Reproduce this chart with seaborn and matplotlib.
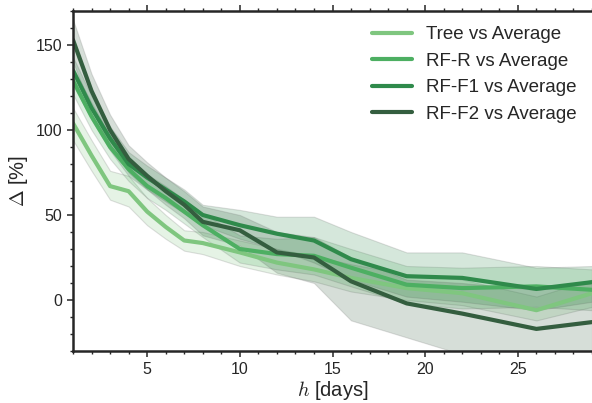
import numpy as np
import matplotlib
matplotlib.use("Agg")
import matplotlib.pyplot as plt
from matplotlib.ticker import MultipleLocator
import seaborn as sns

# --- datos ---
dias = [1, 2, 3, 4, 5, 6, 7, 8, 10, 12, 14, 16, 19, 22, 26, 29]

tree = [104, 85, 67, 64, 52, 43, 35, 33.5, 28, 22, 18, 13, 7, 4, -6, 4]
tree_lo = [94, 76, 59, 55, 44, 36, 29, 27, 20, 15, 11, 5, 0, -3, -12, -4]
tree_hi = [113, 94, 76, 73, 60, 50, 41, 40, 35, 30, 26, 21, 15, 12, 2, 12]

rf_r = [129, 108, 90, 77, 67, 60, 52, 44, 30, 27, 26, 19, 9, 7, 8, 6]
rf_r_lo = [121, 100, 83, 70, 60, 53, 45, 37, 22, 18, 15, 8, -2, -5, -4, -6]
rf_r_hi = [137, 116, 97, 84, 74, 67, 59, 51, 38, 36, 37, 30, 20, 19, 20, 18]

rf_f1 = [135, 113, 95, 80, 72, 65, 58, 50, 44, 39, 35, 24, 14, 13, 6.5, 10.5]
rf_f1_lo = [127, 106, 88, 73, 65, 58, 51, 44, 36, 30, 22, 12, 2, -1, -6, -1]
rf_f1_hi = [143, 120, 102, 87, 79, 72, 65, 56, 53, 49, 49, 40, 28, 28, 19, 20]

rf_f2 = [153, 123, 100, 83, 73, 64, 56, 46, 41, 28, 25, 11, -2, -8, -17, -13]
rf_f2_lo = [140, 112, 91, 75, 65, 56, 48, 38, 32, 16, 10, -12, -22, -32, -42, -38]
rf_f2_hi = [165, 133, 109, 91, 81, 72, 64, 55, 50, 40, 37, 25, 12, 10, 6, 10]

etiquetas = ["Tree vs Average", "RF-R vs Average", "RF-F1 vs Average", "RF-F2 vs Average"]
colores = ["#7fc67f", "#4daf62", "#2f8a4b", "#345e3f"]

series = [(tree, tree_lo, tree_hi), (rf_r, rf_r_lo, rf_r_hi),
          (rf_f1, rf_f1_lo, rf_f1_hi), (rf_f2, rf_f2_lo, rf_f2_hi)]

# --- estilo ---
sns.set_style("ticks")
plt.rcParams['font.family'] = ['Liberation Sans', 'DejaVu Sans']
plt.rcParams['mathtext.fontset'] = 'cm'

fig = plt.figure(figsize=(5.92, 4.03), dpi=100)
ax = fig.add_axes([73 / 592, 1 - 351 / 403, 1 - 73 / 592, (351 - 11) / 403])

for (media, lo, hi), c, lab in zip(series, colores, etiquetas):
    ax.fill_between(dias, lo, hi, facecolor=c, alpha=0.2,
                    edgecolor=(0.4, 0.4, 0.4, 0.5), linewidth=0.8)
    sns.lineplot(x=dias, y=media, color=c, linewidth=3.0, label=lab, ax=ax)

ax.set_xlim(1, 29)
ax.set_ylim(-30, 170)
ax.xaxis.set_major_locator(MultipleLocator(5))
ax.xaxis.set_minor_locator(MultipleLocator(1))
ax.yaxis.set_major_locator(MultipleLocator(50))
ax.yaxis.set_minor_locator(MultipleLocator(10))

ax.tick_params(axis='both', which='major', length=4.5, width=1.1, labelsize=11.5,
               colors='#262626', top=True)
ax.tick_params(axis='both', which='minor', length=2.2, width=1.0, top=True)
ax.spines['right'].set_visible(False)
for s in ['left', 'top', 'bottom']:
    ax.spines[s].set_linewidth(1.8)
    ax.spines[s].set_color('#262626')

ax.set_xlabel("$h$ [days]", fontsize=14.5, color='#262626', labelpad=1)
ax.set_ylabel(r"$\Delta$ [%]", fontsize=14.5, color='#262626', labelpad=4)

ax.legend(loc='upper right', frameon=False, fontsize=13.5, handlelength=2.15,
          handletextpad=0.75, labelspacing=0.5, borderaxespad=0.4)

fig.savefig("out.png", dpi=100)
